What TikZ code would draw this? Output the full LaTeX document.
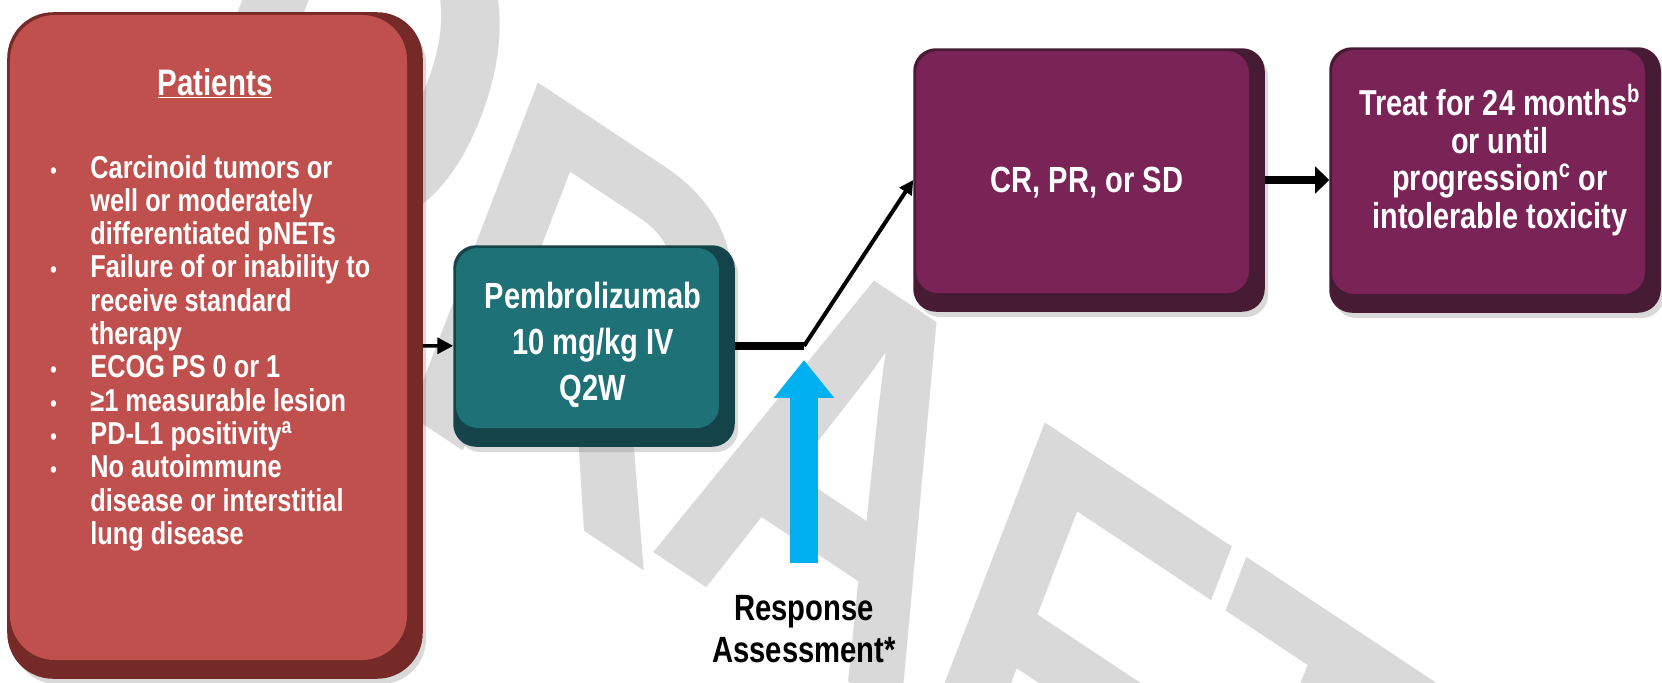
\documentclass[tikz,border=0pt]{standalone}
\usepackage{fontspec}
\setmainfont{Liberation Sans}
\newfontfamily\condfont{Liberation Sans}[FakeStretch=0.8]
\usetikzlibrary{arrows.meta,shadows}

\definecolor{patface}{RGB}{192,80,77}
\definecolor{patrim}{RGB}{118,42,40}
\definecolor{pemface}{RGB}{30,113,119}
\definecolor{pemrim}{RGB}{20,68,73}
\definecolor{resface}{RGB}{122,35,86}
\definecolor{resrim}{RGB}{72,27,52}
\definecolor{assessblue}{RGB}{0,176,240}
\definecolor{draftgray}{RGB}{217,217,217}

\tikzset{
  stagebox/.style n args={3}{draw=#2, line width=0.3mm, fill=#2, rounded corners=#3,
    drop shadow={shadow xshift=0.8mm, shadow yshift=-1.2mm, opacity=0.3},
    path picture={\fill[#1, rounded corners=#3]
      ([shift={(0.4mm,-0.4mm)}]path picture bounding box.north west) rectangle
      ([shift={(-3mm,3.6mm)}]path picture bounding box.south east);}},
  boxtext/.style={text=white, align=center, inner sep=0pt,
    font=\condfont\bfseries\fontsize{20.7}{26.2}\selectfont},
  listtext/.style={text=white, inner sep=0pt,
    font=\condfont\bfseries\fontsize{18}{18.95}\selectfont},
  notetext/.style={text=black, align=center, inner sep=0pt,
    font=\condfont\bfseries\fontsize{20.8}{24}\selectfont},
  draftmark/.style={text=draftgray, anchor=base west, inner sep=0pt, transform shape,
    cm={0.893,-0.592,0.451,1.172,(0,0)}, font=\bfseries\fontsize{235}{235}\selectfont},
  thinarrow/.style={line width=2pt, -{Triangle[length=9pt,width=9pt]}},
  thickline/.style={line width=4.5pt},
  diagarrow/.style={line width=2.3pt, -{Triangle[length=8pt,width=8pt]}},
  thickarrow/.style={line width=4.5pt, -{Triangle[length=8pt,width=15pt]}},
  assessarrow/.style={draw=assessblue, line width=16pt,
    -{Triangle[length=21.6pt,width=33pt]}, shorten <=6.4mm, shorten >=2.8mm}
}

\begin{document}
\begin{tikzpicture}[x=0.2mm, y=-0.2mm]
  \useasboundingbox (0,0) rectangle (1662,682);

  % watermark, one letter at a time
  \foreach \ch/\ox/\oy in {D/165/120, R/385/399, A/644/546, F/892/739, T/1114/887}
    \node[draftmark] (draft\ch) at (\ox,\oy) {\ch};

  % boxes
  \node[stagebox={patface}{patrim}{9mm}, minimum width=82.8mm, minimum height=133mm] (pat) at (215,345.5) {};
  \node[stagebox={pemface}{pemrim}{4.4mm}, minimum width=56mm, minimum height=40mm] (pem) at (594,346) {};
  \node[stagebox={resface}{resrim}{4.4mm}, minimum width=70mm, minimum height=52.4mm] (crsd) at (1089,180) {};
  \node[stagebox={resface}{resrim}{4.4mm}, minimum width=66mm, minimum height=52.8mm] (treat) at (1495,180) {};
  \coordinate (assess) at (804,346);

  % texts
  \node[boxtext, anchor=base, font=\condfont\bfseries\fontsize{21}{24}\selectfont] (pattitle) at (215,95) {\underline{Patients}};
  \node[listtext, anchor=base west] (patlist) at (50,178) {%
    \begin{tabular}[t]{@{}p{22.8pt}@{}l@{}}
      {\fontsize{13}{13}\selectfont\textbullet} & Carcinoid tumors or\\
                  & well or moderately\\
                  & differentiated pNETs\\
      {\fontsize{13}{13}\selectfont\textbullet} & Failure of or inability to\\
                  & receive standard\\
                  & therapy\\
      {\fontsize{13}{13}\selectfont\textbullet} & ECOG PS 0 or 1\\
      {\fontsize{13}{13}\selectfont\textbullet} & ≥1 measurable lesion\\
      {\fontsize{13}{13}\selectfont\textbullet} & PD-L1 positivity\textsuperscript{a}\\
      {\fontsize{13}{13}\selectfont\textbullet} & No autoimmune\\
                  & disease or interstitial\\
                  & lung disease
    \end{tabular}};
  \node[boxtext] (pemtext) at (593,345) {Pembrolizumab\\10 mg/kg IV\\Q2W};
  \node[boxtext] (crsdtext) at (1087,183) {CR, PR, or SD};
  \node[boxtext, font=\condfont\bfseries\fontsize{20.5}{21.5}\selectfont] (treattext) at (1500,160)
    {Treat for 24 months\textsuperscript{b}\\or until\\progression\textsuperscript{c} or\\intolerable toxicity};
  \node[notetext] (resp) at (804,629) {Response\\Assessment*};

  % connectors
  \draw[thinarrow] (pat) -- (pem);
  \draw[thickline] (pem) -- (assess);
  \draw[diagarrow] (assess) -- (crsd.west);
  \draw[thickarrow] (crsd) -- (treat);
  \draw[assessarrow] (resp) -- (assess);
\end{tikzpicture}
\end{document}
